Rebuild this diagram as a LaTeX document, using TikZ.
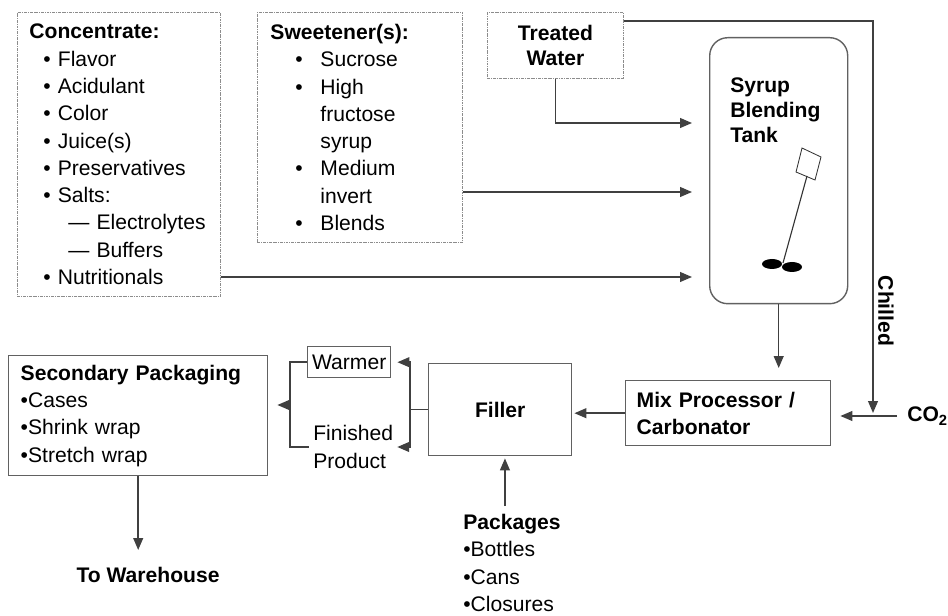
\documentclass[tikz,border=0pt]{standalone}
\usepackage{fontspec}
\setmainfont{Liberation Sans}
\usetikzlibrary{arrows.meta,positioning}
\newlength{\pxu}
\setlength{\pxu}{0.025cm}
\newcommand{\blt}[1]{\hspace*{14\pxu}\textbullet\ #1}
\newcommand{\sblt}[1]{\hspace*{25\pxu}\makebox[25\pxu][l]{\textbullet}#1}
\newcommand{\scont}[1]{\hspace*{50\pxu}#1}

\begin{document}
\begin{tikzpicture}[x=0.025cm, y=-0.025cm, % one unit = one pixel, y downwards
    every node/.style={font=\fontsize{15}{19.4}\selectfont, inner sep=0pt},
    head/.style={font=\fontsize{15}{19.4}\selectfont\bfseries},
    tight/.style={font=\fontsize{15}{17.8}\selectfont\bfseries},
    solidbox/.style={draw=black!62, line width=1pt},
    inbox/.style={draw=black!45, line width=0.7pt, dash pattern=on 2pt off 0.7pt on 0.6pt off 0.7pt},
    pipe/.style={draw=black!75, line width=1.05pt},
    flow/.style={pipe, -{Triangle[length=8.5pt,width=7pt]}}]
    \useasboundingbox (0,0) rectangle (948,616);

    % Ingredients
    \node[inbox, anchor=north west, text width=179\pxu, inner xsep=12\pxu,
          minimum height=284\pxu, align=left] (conc) at (17,12)
        {\textbf{Concentrate:}\\
         \blt{Flavor}\\
         \blt{Acidulant}\\
         \blt{Color}\\
         \blt{Juice(s)}\\
         \blt{Preservatives}\\
         \blt{Salts:}\\
         \hspace*{39\pxu}— Electrolytes\\
         \hspace*{39\pxu}— Buffers\\
         \blt{Nutritionals}};
    \node[inbox, anchor=north west, text width=179\pxu, inner xsep=13\pxu,
          minimum height=230\pxu, align=left] (sweet) at (257,12)
        {\textbf{Sweetener(s):}\\
         \sblt{Sucrose}\\
         \sblt{High}\\
         \scont{fructose}\\
         \scont{syrup}\\
         \sblt{Medium}\\
         \scont{invert}\\
         \sblt{Blends}};
    \node[inbox, tight, anchor=north west, minimum width=136\pxu,
          minimum height=66\pxu, align=center] (water) at (487,12) {Treated\\Water};

    % Blending tank with agitator
    \node[solidbox, rounded corners=18\pxu, anchor=north west, minimum width=138\pxu,
          minimum height=266\pxu] (tank) at (709,37) {};
    \node[tight, align=left, below right=40\pxu and 21\pxu of tank.north west] (tanktext)
        {Syrup\\Blending\\Tank};
    \draw[black!80, line width=0.6pt] (802,148) -- (821,157) -- (815,180) -- (796,172) -- cycle;
    \draw[black!80, line width=0.8pt] (807,176) -- (783,263);
    \fill (772,264) ellipse [x radius=10\pxu, y radius=5\pxu];
    \fill (792,267) ellipse [x radius=10\pxu, y radius=5\pxu];

    % Processing line
    \node[solidbox, head, anchor=north west, text width=183\pxu, inner xsep=11\pxu,
          minimum height=65\pxu, align=left] (mix) at (625,380) {Mix Processor /\\Carbonator};
    \node[solidbox, head, anchor=north west, minimum width=143\pxu,
          minimum height=92\pxu] (filler) at (428,363) {Filler};
    \node[solidbox, anchor=north west, minimum width=83\pxu,
          minimum height=31\pxu] (warmer) at (307,346) {Warmer};
    \node[anchor=west, inner xsep=4\pxu, align=left] (finished) at (309,447) {Finished\\Product};
    \node[solidbox, anchor=north west, text width=235\pxu, inner xsep=12\pxu,
          minimum height=120\pxu, align=left] (secpack) at (8,355)
        {\textbf{Secondary Packaging}\\\textbullet Cases\\\textbullet Shrink wrap\\\textbullet Stretch wrap};
    \node[head] (warehouse) at (148,575) {To Warehouse};
    \node[anchor=north west, inner ysep=8\pxu, align=left] (packages) at (463,506)
        {\textbf{Packages}\\\textbullet Bottles\\\textbullet Cans\\\textbullet Closures};
    \node[head, rotate=-90] (chilled) at (886,311) {Chilled};
    \node[head, anchor=west, inner xsep=10\pxu] (co2) at (897,416) {CO\textsubscript{2}};
    \coordinate (co2j) at (873,416);

    % Flows into the tank
    \draw[flow, shorten >=17\pxu] (water.south) |- (tank.west |- 0,123);
    \draw[flow, shorten >=17\pxu] (sweet.east |- 0,192) -- (tank.west |- 0,192);
    \draw[flow, shorten >=17\pxu] (conc.east |- 0,277) -- (tank.west |- 0,277);

    % Chilled water and CO2
    \draw[flow, shorten >=3\pxu] ([yshift=-9\pxu]water.north east) -| (co2j);
    \draw[flow, shorten >=9\pxu] (co2.west) -- (co2.west -| mix.east);

    % Tank to filler
    \draw[flow, shorten >=12\pxu] (tank.south) -- (tank.south |- mix.north);
    \draw[flow, shorten >=2\pxu] (mix.west) -- (mix.west -| filler.east);
    \draw[flow, shorten >=2\pxu] ([xshift=-7\pxu]packages.north) -- ([xshift=-7\pxu]packages.north |- filler.south);

    % Filler outputs
    \draw[pipe] (filler.west) -- ++(-18,0) coordinate (fj);
    \draw[flow, shorten >=6\pxu] (fj) |- (warmer.east);
    \draw[flow] (fj) |- (finished.east);
    \coordinate (lj) at (290,405);
    \draw[pipe] (warmer.west) -| (lj) |- (finished.west);
    \draw[flow, shorten >=9\pxu] (lj) -- (lj -| secpack.east);
    \draw[flow, shorten >=17\pxu] (secpack.south) -- (secpack.south |- warehouse.north);
\end{tikzpicture}
\end{document}
